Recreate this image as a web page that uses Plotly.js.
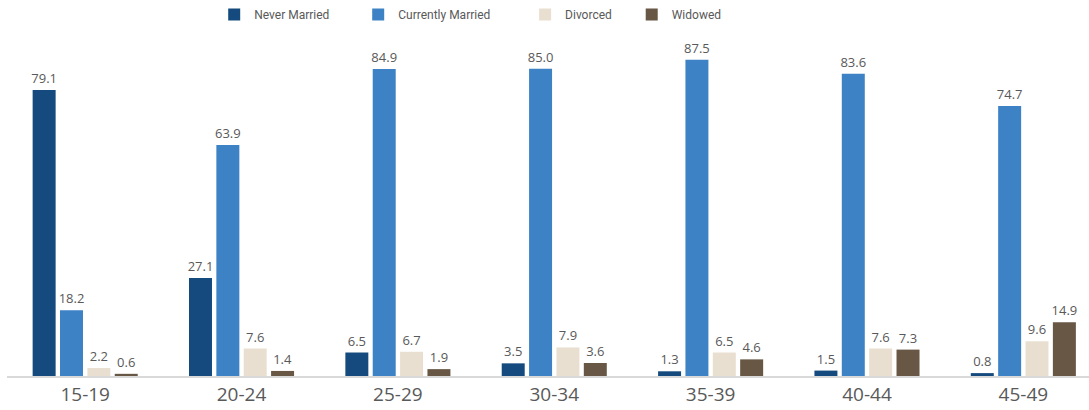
<!DOCTYPE html>
<html><head><meta charset="utf-8">
<script src="https://cdn.plot.ly/plotly-3.0.1.min.js"></script>
<style>html,body{margin:0;padding:0;background:#fff}#chart{width:1089px;height:410px}</style>
</head><body><div id="chart"></div>
<script>
const categories = ["15-19","20-24","25-29","30-34","35-39","40-44","45-49"];
const seriesNames = ["Never Married","Currently Married","Divorced","Widowed"];
const neverMarried = [79.1,27.1,6.5,3.5,1.3,1.5,0.8];
const currentlyMarried = [18.2,63.9,84.9,85.0,87.5,83.6,74.7];
const divorced = [2.2,7.6,6.7,7.9,6.5,7.6,9.6];
const widowed = [0.6,1.4,1.9,3.6,4.6,7.3,14.9];
const colors = ["#144A7D","#3C82C4","#E9DFD0","#675744"];
const allSeries = [neverMarried,currentlyMarried,divorced,widowed];
// extra legend spacing (non-breaking spaces) after each legend entry
const legendPad = [8,10,5,0];

const traces = allSeries.map((vals,i)=>({
  type:"bar", name:seriesNames[i] + "\u00a0".repeat(legendPad[i]), x:categories, y:vals,
  marker:{color:colors[i]},
  text:vals.map(v=>v.toFixed(1)), textposition:"outside", constraintext:"none",
  textfont:{size:13,color:"#595959",family:"Open Sans, sans-serif"},
  cliponaxis:false, hoverinfo:"x+y"
}));

const layout = {
  width:1089, height:410,
  margin:{l:7,r:0,t:30,b:34},
  paper_bgcolor:"#fff", plot_bgcolor:"#fff",
  barmode:"group", bargap:0.30, bargroupgap:0.16,
  font:{family:"Open Sans, sans-serif",color:"#595959"},
  showlegend:true,
  legend:{orientation:"h",x:0.1915,xanchor:"left",y:1,yanchor:"top",yref:"container",
    font:{size:12,color:"#595959",family:"Roboto, sans-serif"},itemwidth:30,traceorder:"normal"},
  xaxis:{type:"category",range:[-0.5,6.42],showgrid:false,showline:true,linecolor:"#d9d9d9",linewidth:2,
    ticks:"",tickfont:{size:19,color:"#595959"},fixedrange:true},
  yaxis:{range:[0,95.7],showgrid:false,zeroline:false,showline:false,showticklabels:false,fixedrange:true}
};
Plotly.newPlot("chart",traces,layout,{displayModeBar:false,staticPlot:true});
</script></body></html>
